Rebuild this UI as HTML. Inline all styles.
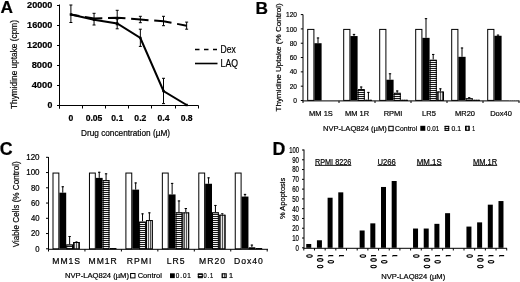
<!DOCTYPE html>
<html><head><meta charset="utf-8"><style>
html,body{margin:0;padding:0;background:#fff;}
svg{display:block;}
.b{filter:blur(0.35px);}
text{font-family:"Liberation Sans", sans-serif;fill:#000;stroke:#000;stroke-width:0.2px;}
</style></head><body>
<svg class="b" width="520" height="282" viewBox="0 0 520 282">
<defs>
<pattern id="hz" width="4" height="2" patternUnits="userSpaceOnUse"><rect width="4" height="2" fill="#f4f4f4"/><rect width="4" height="1" fill="#1a1a1a"/></pattern>
<pattern id="vt" width="2" height="4" patternUnits="userSpaceOnUse"><rect width="2" height="4" fill="#e4e4e4"/><rect width="1" height="4" fill="#555"/></pattern>
</defs>
<rect width="520" height="282" fill="#fff"/>
<text x="0.6" y="13.3" font-size="17.3" text-anchor="start" font-weight="bold" >A</text>
<line x1="59.5" y1="4.5" x2="59.5" y2="108.5" stroke="#000" stroke-width="1" />
<line x1="57" y1="105.5" x2="59.5" y2="105.5" stroke="#000" stroke-width="1" />
<text x="52.4" y="108.3" font-size="8.8" text-anchor="end" font-weight="bold" >0</text>
<line x1="57" y1="85.5" x2="59.5" y2="85.5" stroke="#000" stroke-width="1" />
<text x="52.4" y="88.3" font-size="8.8" text-anchor="end" font-weight="bold" textLength="20.7" lengthAdjust="spacingAndGlyphs" >4000</text>
<line x1="57" y1="65.5" x2="59.5" y2="65.5" stroke="#000" stroke-width="1" />
<text x="52.4" y="68.3" font-size="8.8" text-anchor="end" font-weight="bold" textLength="20.7" lengthAdjust="spacingAndGlyphs" >8000</text>
<line x1="57" y1="45.5" x2="59.5" y2="45.5" stroke="#000" stroke-width="1" />
<text x="52.4" y="48.3" font-size="8.8" text-anchor="end" font-weight="bold" textLength="25.3" lengthAdjust="spacingAndGlyphs" >12000</text>
<line x1="57" y1="25.5" x2="59.5" y2="25.5" stroke="#000" stroke-width="1" />
<text x="52.4" y="28.3" font-size="8.8" text-anchor="end" font-weight="bold" textLength="25.3" lengthAdjust="spacingAndGlyphs" >16000</text>
<line x1="57" y1="5.5" x2="59.5" y2="5.5" stroke="#000" stroke-width="1" />
<text x="52.4" y="8.3" font-size="8.8" text-anchor="end" font-weight="bold" textLength="25.3" lengthAdjust="spacingAndGlyphs" >20000</text>
<line x1="57" y1="105.5" x2="198.5" y2="105.5" stroke="#000" stroke-width="1" />
<line x1="59.5" y1="105.5" x2="59.5" y2="108.5" stroke="#000" stroke-width="1" />
<line x1="82.5" y1="105.5" x2="82.5" y2="108.5" stroke="#000" stroke-width="1" />
<line x1="105.5" y1="105.5" x2="105.5" y2="108.5" stroke="#000" stroke-width="1" />
<line x1="128.5" y1="105.5" x2="128.5" y2="108.5" stroke="#000" stroke-width="1" />
<line x1="151.5" y1="105.5" x2="151.5" y2="108.5" stroke="#000" stroke-width="1" />
<line x1="175.5" y1="105.5" x2="175.5" y2="108.5" stroke="#000" stroke-width="1" />
<line x1="198.5" y1="105.5" x2="198.5" y2="108.5" stroke="#000" stroke-width="1" />
<text x="70.9" y="121.4" font-size="8.6" text-anchor="middle" font-weight="bold" >0</text>
<text x="94.05000000000001" y="121.4" font-size="8.6" text-anchor="middle" font-weight="bold" >0.05</text>
<text x="117.2" y="121.4" font-size="8.6" text-anchor="middle" font-weight="bold" >0.1</text>
<text x="140.35" y="121.4" font-size="8.6" text-anchor="middle" font-weight="bold" >0.2</text>
<text x="163.5" y="121.4" font-size="8.6" text-anchor="middle" font-weight="bold" >0.4</text>
<text x="186.65" y="121.4" font-size="8.6" text-anchor="middle" font-weight="bold" >0.8</text>
<text x="81" y="136" font-size="9" text-anchor="start" textLength="89" lengthAdjust="spacingAndGlyphs" >Drug concentration (µM)</text>
<text transform="translate(17.2,109) rotate(-90)" font-size="9.4" text-anchor="start" textLength="89" lengthAdjust="spacingAndGlyphs" >Thymidine uptake (cpm)</text>
<polyline points="70.9,14.5 94.05000000000001,19.8 117.2,23.5 140.35,38.0 163.5,91.0 186.65,105.0" fill="none" stroke="#000" stroke-width="2"/>
<polyline points="70.9,14.5 94.05000000000001,18.4 117.2,17.7 140.35,19.5 163.5,21.3 186.65,25.7" fill="none" stroke="#000" stroke-width="2" stroke-dasharray="17.45 5.7" stroke-dashoffset="-14.3"/>
<line x1="70.9" y1="5.0" x2="70.9" y2="22.5" stroke="#000" stroke-width="1" />
<line x1="69.4" y1="5.0" x2="72.4" y2="5.0" stroke="#000" stroke-width="1" />
<line x1="69.4" y1="22.5" x2="72.4" y2="22.5" stroke="#000" stroke-width="1" />
<line x1="94.05000000000001" y1="13.3" x2="94.05000000000001" y2="25.0" stroke="#000" stroke-width="1" />
<line x1="92.55000000000001" y1="13.3" x2="95.55000000000001" y2="13.3" stroke="#000" stroke-width="1" />
<line x1="92.55000000000001" y1="25.0" x2="95.55000000000001" y2="25.0" stroke="#000" stroke-width="1" />
<line x1="117.2" y1="19" x2="117.2" y2="28.8" stroke="#000" stroke-width="1" />
<line x1="115.7" y1="19" x2="118.7" y2="19" stroke="#000" stroke-width="1" />
<line x1="115.7" y1="28.8" x2="118.7" y2="28.8" stroke="#000" stroke-width="1" />
<line x1="140.35" y1="29.2" x2="140.35" y2="46.4" stroke="#000" stroke-width="1" />
<line x1="138.85" y1="29.2" x2="141.85" y2="29.2" stroke="#000" stroke-width="1" />
<line x1="138.85" y1="46.4" x2="141.85" y2="46.4" stroke="#000" stroke-width="1" />
<line x1="163.5" y1="78.3" x2="163.5" y2="103.6" stroke="#000" stroke-width="1" />
<line x1="162.0" y1="78.3" x2="165.0" y2="78.3" stroke="#000" stroke-width="1" />
<line x1="162.0" y1="103.6" x2="165.0" y2="103.6" stroke="#000" stroke-width="1" />
<line x1="117.2" y1="10.3" x2="117.2" y2="24.8" stroke="#000" stroke-width="1" />
<line x1="115.7" y1="10.3" x2="118.7" y2="10.3" stroke="#000" stroke-width="1" />
<line x1="115.7" y1="24.8" x2="118.7" y2="24.8" stroke="#000" stroke-width="1" />
<line x1="140.35" y1="16.3" x2="140.35" y2="22.7" stroke="#000" stroke-width="1" />
<line x1="138.85" y1="16.3" x2="141.85" y2="16.3" stroke="#000" stroke-width="1" />
<line x1="138.85" y1="22.7" x2="141.85" y2="22.7" stroke="#000" stroke-width="1" />
<line x1="163.5" y1="16.3" x2="163.5" y2="25.7" stroke="#000" stroke-width="1" />
<line x1="162.0" y1="16.3" x2="165.0" y2="16.3" stroke="#000" stroke-width="1" />
<line x1="162.0" y1="25.7" x2="165.0" y2="25.7" stroke="#000" stroke-width="1" />
<line x1="186.65" y1="22.1" x2="186.65" y2="29.2" stroke="#000" stroke-width="1" />
<line x1="185.15" y1="22.1" x2="188.15" y2="22.1" stroke="#000" stroke-width="1" />
<line x1="185.15" y1="29.2" x2="188.15" y2="29.2" stroke="#000" stroke-width="1" />
<rect x="69.7" y="13.3" width="2.4" height="2.4" fill="#000"/>
<rect x="92.85000000000001" y="18.6" width="2.4" height="2.4" fill="#000"/>
<rect x="116.0" y="22.3" width="2.4" height="2.4" fill="#000"/>
<rect x="139.15" y="36.8" width="2.4" height="2.4" fill="#000"/>
<rect x="162.3" y="89.8" width="2.4" height="2.4" fill="#000"/>
<rect x="185.45000000000002" y="103.8" width="2.4" height="2.4" fill="#000"/>
<line x1="195" y1="49.5" x2="217" y2="49.5" stroke="#000" stroke-width="1.6" stroke-dasharray="4.5 4.5"/>
<line x1="195" y1="63.5" x2="217.5" y2="63.5" stroke="#000" stroke-width="1.6" />
<text x="220.6" y="53.4" font-size="10.2" text-anchor="start" textLength="15.2" lengthAdjust="spacingAndGlyphs" >Dex</text>
<text x="220.6" y="66.6" font-size="10.2" text-anchor="start" textLength="17.4" lengthAdjust="spacingAndGlyphs" >LAQ</text>
<text x="255.6" y="13.6" font-size="17.3" text-anchor="start" font-weight="bold" >B</text>
<line x1="303" y1="14.5" x2="303" y2="100.9" stroke="#000" stroke-width="1" />
<line x1="300.8" y1="100.5" x2="303" y2="100.5" stroke="#000" stroke-width="1" />
<text x="297" y="103.1" font-size="7.6" text-anchor="end" textLength="3.7" lengthAdjust="spacingAndGlyphs" >0</text>
<line x1="300.8" y1="86.18" x2="303" y2="86.18" stroke="#000" stroke-width="1" />
<text x="297" y="88.78" font-size="7.6" text-anchor="end" textLength="7.3" lengthAdjust="spacingAndGlyphs" >20</text>
<line x1="300.8" y1="71.86" x2="303" y2="71.86" stroke="#000" stroke-width="1" />
<text x="297" y="74.46" font-size="7.6" text-anchor="end" textLength="7.3" lengthAdjust="spacingAndGlyphs" >40</text>
<line x1="300.8" y1="57.54" x2="303" y2="57.54" stroke="#000" stroke-width="1" />
<text x="297" y="60.14" font-size="7.6" text-anchor="end" textLength="7.3" lengthAdjust="spacingAndGlyphs" >60</text>
<line x1="300.8" y1="43.22" x2="303" y2="43.22" stroke="#000" stroke-width="1" />
<text x="297" y="45.82" font-size="7.6" text-anchor="end" textLength="7.3" lengthAdjust="spacingAndGlyphs" >80</text>
<line x1="300.8" y1="28.900000000000006" x2="303" y2="28.900000000000006" stroke="#000" stroke-width="1" />
<text x="297" y="31.500000000000007" font-size="7.6" text-anchor="end" textLength="11" lengthAdjust="spacingAndGlyphs" >100</text>
<line x1="300.8" y1="14.579999999999998" x2="303" y2="14.579999999999998" stroke="#000" stroke-width="1" />
<text x="297" y="17.18" font-size="7.6" text-anchor="end" textLength="11" lengthAdjust="spacingAndGlyphs" >120</text>
<line x1="302.5" y1="100.9" x2="519.5" y2="100.9" stroke="#000" stroke-width="1" />
<line x1="303" y1="100.9" x2="303" y2="103" stroke="#000" stroke-width="1" />
<line x1="339" y1="100.9" x2="339" y2="103" stroke="#000" stroke-width="1" />
<line x1="375" y1="100.9" x2="375" y2="103" stroke="#000" stroke-width="1" />
<line x1="411" y1="100.9" x2="411" y2="103" stroke="#000" stroke-width="1" />
<line x1="447" y1="100.9" x2="447" y2="103" stroke="#000" stroke-width="1" />
<line x1="483" y1="100.9" x2="483" y2="103" stroke="#000" stroke-width="1" />
<line x1="519" y1="100.9" x2="519" y2="103" stroke="#000" stroke-width="1" />
<text transform="translate(280.6,111.5) rotate(-90)" font-size="8" text-anchor="start" textLength="108.2" lengthAdjust="spacingAndGlyphs" >Thymidine Uptake (% Control)</text>
<rect x="307.7" y="29.400000000000006" width="6.2" height="71.0" fill="#fff" stroke="#000" stroke-width="1"/>
<line x1="318.0" y1="37.492000000000004" x2="318.0" y2="43.22" stroke="#000" stroke-width="1" />
<line x1="316.8" y1="37.992000000000004" x2="319.2" y2="37.992000000000004" stroke="#000" stroke-width="1" />
<rect x="314.4" y="43.22" width="7.2" height="57.18000000000001" fill="#000"/>
<text x="321" y="116.3" font-size="7.5" text-anchor="middle" >MM 1S</text>
<rect x="343.7" y="29.400000000000006" width="6.2" height="71.0" fill="#fff" stroke="#000" stroke-width="1"/>
<line x1="354.0" y1="33.912000000000006" x2="354.0" y2="36.06" stroke="#000" stroke-width="1" />
<line x1="352.8" y1="34.412000000000006" x2="355.2" y2="34.412000000000006" stroke="#000" stroke-width="1" />
<rect x="350.4" y="36.06" width="7.2" height="64.34" fill="#000"/>
<line x1="361.2" y1="86.538" x2="361.2" y2="89.044" stroke="#000" stroke-width="1" />
<line x1="360.0" y1="87.038" x2="362.4" y2="87.038" stroke="#000" stroke-width="1" />
<rect x="357.59999999999997" y="89.044" width="7.2" height="11.356000000000009" fill="url(#hz)"/>
<rect x="358.09999999999997" y="89.544" width="6.2" height="10.856000000000009" fill="none" stroke="#000" stroke-width="1"/>
<line x1="368.40000000000003" y1="91.908" x2="368.40000000000003" y2="99.784" stroke="#000" stroke-width="1" />
<line x1="367.20000000000005" y1="92.408" x2="369.6" y2="92.408" stroke="#000" stroke-width="1" />
<rect x="364.8" y="99.784" width="7.2" height="0.6159999999999997" fill="url(#vt)"/>
<rect x="365.3" y="100.284" width="6.2" height="0.11599999999999966" fill="none" stroke="#000" stroke-width="1"/>
<text x="357" y="116.3" font-size="7.5" text-anchor="middle" >MM 1R</text>
<rect x="379.7" y="29.400000000000006" width="6.2" height="71.0" fill="#fff" stroke="#000" stroke-width="1"/>
<line x1="390.0" y1="73.292" x2="390.0" y2="79.736" stroke="#000" stroke-width="1" />
<line x1="388.8" y1="73.792" x2="391.2" y2="73.792" stroke="#000" stroke-width="1" />
<rect x="386.4" y="79.736" width="7.2" height="20.664" fill="#000"/>
<line x1="397.2" y1="90.476" x2="397.2" y2="92.8388" stroke="#000" stroke-width="1" />
<line x1="396.0" y1="90.976" x2="398.4" y2="90.976" stroke="#000" stroke-width="1" />
<rect x="393.59999999999997" y="92.8388" width="7.2" height="7.5611999999999995" fill="url(#hz)"/>
<rect x="394.09999999999997" y="93.3388" width="6.2" height="7.0611999999999995" fill="none" stroke="#000" stroke-width="1"/>
<rect x="400.8" y="99.784" width="7.2" height="0.6159999999999997" fill="url(#vt)"/>
<rect x="401.3" y="100.284" width="6.2" height="0.11599999999999966" fill="none" stroke="#000" stroke-width="1"/>
<text x="393" y="116.3" font-size="7.5" text-anchor="middle" >RPMI</text>
<rect x="415.7" y="29.400000000000006" width="6.2" height="71.0" fill="#fff" stroke="#000" stroke-width="1"/>
<line x1="426.0" y1="18.159999999999997" x2="426.0" y2="37.85" stroke="#000" stroke-width="1" />
<line x1="424.8" y1="18.659999999999997" x2="427.2" y2="18.659999999999997" stroke="#000" stroke-width="1" />
<rect x="422.4" y="37.85" width="7.2" height="62.550000000000004" fill="#000"/>
<line x1="433.2" y1="53.96" x2="433.2" y2="59.688" stroke="#000" stroke-width="1" />
<line x1="432.0" y1="54.46" x2="434.4" y2="54.46" stroke="#000" stroke-width="1" />
<rect x="429.59999999999997" y="59.688" width="7.2" height="40.712" fill="url(#hz)"/>
<rect x="430.09999999999997" y="60.188" width="6.2" height="40.212" fill="none" stroke="#000" stroke-width="1"/>
<line x1="440.40000000000003" y1="88.328" x2="440.40000000000003" y2="91.4784" stroke="#000" stroke-width="1" />
<line x1="439.20000000000005" y1="88.828" x2="441.6" y2="88.828" stroke="#000" stroke-width="1" />
<rect x="436.8" y="91.4784" width="7.2" height="8.921600000000012" fill="url(#vt)"/>
<rect x="437.3" y="91.9784" width="6.2" height="8.421600000000012" fill="none" stroke="#000" stroke-width="1"/>
<text x="429" y="116.3" font-size="7.5" text-anchor="middle" >LR5</text>
<rect x="451.7" y="29.400000000000006" width="6.2" height="71.0" fill="#fff" stroke="#000" stroke-width="1"/>
<line x1="462.0" y1="47.516000000000005" x2="462.0" y2="56.824000000000005" stroke="#000" stroke-width="1" />
<line x1="460.8" y1="48.016000000000005" x2="463.2" y2="48.016000000000005" stroke="#000" stroke-width="1" />
<rect x="458.4" y="56.824000000000005" width="7.2" height="43.576" fill="#000"/>
<line x1="469.2" y1="97.278" x2="469.2" y2="98.352" stroke="#000" stroke-width="1" />
<line x1="468.0" y1="97.778" x2="470.4" y2="97.778" stroke="#000" stroke-width="1" />
<rect x="465.59999999999997" y="98.352" width="7.2" height="2.048000000000002" fill="url(#hz)"/>
<rect x="466.09999999999997" y="98.852" width="6.2" height="1.5480000000000018" fill="none" stroke="#000" stroke-width="1"/>
<rect x="472.8" y="99.784" width="7.2" height="0.6159999999999997" fill="url(#vt)"/>
<rect x="473.3" y="100.284" width="6.2" height="0.11599999999999966" fill="none" stroke="#000" stroke-width="1"/>
<text x="465" y="116.3" font-size="7.5" text-anchor="middle" >MR20</text>
<rect x="487.7" y="29.400000000000006" width="6.2" height="71.0" fill="#fff" stroke="#000" stroke-width="1"/>
<line x1="498.0" y1="34.628" x2="498.0" y2="35.7736" stroke="#000" stroke-width="1" />
<line x1="496.8" y1="35.128" x2="499.2" y2="35.128" stroke="#000" stroke-width="1" />
<rect x="494.4" y="35.7736" width="7.2" height="64.6264" fill="#000"/>
<rect x="501.59999999999997" y="100.2136" width="7.2" height="0.18640000000000612" fill="url(#hz)"/>
<rect x="502.09999999999997" y="100.7136" width="6.2" height="-0.3135999999999939" fill="none" stroke="#000" stroke-width="1"/>
<rect x="508.8" y="100.2852" width="7.2" height="0.11480000000000246" fill="url(#vt)"/>
<rect x="509.3" y="100.7852" width="6.2" height="-0.38519999999999754" fill="none" stroke="#000" stroke-width="1"/>
<text x="501" y="116.3" font-size="7.5" text-anchor="middle" >Dox40</text>
<text x="323" y="131" font-size="8" text-anchor="start" textLength="63.8" lengthAdjust="spacingAndGlyphs" >NVP-LAQ824 (µM)</text>
<rect x="388.8" y="126.3" width="4.4" height="4.4" fill="#fff" stroke="#000" stroke-width="1"/>
<text x="395" y="131" font-size="8" text-anchor="start" textLength="22.2" lengthAdjust="spacingAndGlyphs" >Control</text>
<rect x="420.3" y="125.8" width="5" height="5" fill="#000"/>
<text x="427" y="131" font-size="8" text-anchor="start" textLength="12.2" lengthAdjust="spacingAndGlyphs" >0.01</text>
<rect x="444.6" y="125.8" width="4.6" height="5" fill="url(#hz)"/>
<rect x="445.1" y="126.3" width="3.6" height="4" fill="none" stroke="#000" stroke-width="1"/>
<text x="451.5" y="131" font-size="8" text-anchor="start" textLength="9.5" lengthAdjust="spacingAndGlyphs" >0.1</text>
<rect x="465" y="125.8" width="4.8" height="5" fill="url(#vt)"/>
<rect x="465.5" y="126.3" width="3.8" height="4" fill="none" stroke="#000" stroke-width="1"/>
<text x="472.2" y="131" font-size="8" text-anchor="start" textLength="2.8" lengthAdjust="spacingAndGlyphs" >1</text>
<text x="-0.2" y="154.6" font-size="17.8" text-anchor="start" font-weight="bold" >C</text>
<line x1="48.5" y1="157" x2="48.5" y2="249.3" stroke="#000" stroke-width="1" />
<line x1="46" y1="248.8" x2="48.5" y2="248.8" stroke="#000" stroke-width="1" />
<text x="39.6" y="251.70000000000002" font-size="8.2" text-anchor="end" textLength="4.3" lengthAdjust="spacingAndGlyphs" >0</text>
<line x1="46" y1="233.55" x2="48.5" y2="233.55" stroke="#000" stroke-width="1" />
<text x="39.6" y="236.45000000000002" font-size="8.2" text-anchor="end" textLength="8.6" lengthAdjust="spacingAndGlyphs" >20</text>
<line x1="46" y1="218.3" x2="48.5" y2="218.3" stroke="#000" stroke-width="1" />
<text x="39.6" y="221.20000000000002" font-size="8.2" text-anchor="end" textLength="8.6" lengthAdjust="spacingAndGlyphs" >40</text>
<line x1="46" y1="203.05" x2="48.5" y2="203.05" stroke="#000" stroke-width="1" />
<text x="39.6" y="205.95000000000002" font-size="8.2" text-anchor="end" textLength="8.6" lengthAdjust="spacingAndGlyphs" >60</text>
<line x1="46" y1="187.8" x2="48.5" y2="187.8" stroke="#000" stroke-width="1" />
<text x="39.6" y="190.70000000000002" font-size="8.2" text-anchor="end" textLength="8.6" lengthAdjust="spacingAndGlyphs" >80</text>
<line x1="46" y1="172.55" x2="48.5" y2="172.55" stroke="#000" stroke-width="1" />
<text x="39.6" y="175.45000000000002" font-size="8.2" text-anchor="end" textLength="13.4" lengthAdjust="spacingAndGlyphs" >100</text>
<line x1="46" y1="157.3" x2="48.5" y2="157.3" stroke="#000" stroke-width="1" />
<text x="39.6" y="160.20000000000002" font-size="8.2" text-anchor="end" textLength="13.4" lengthAdjust="spacingAndGlyphs" >120</text>
<line x1="48" y1="249.3" x2="268" y2="249.3" stroke="#000" stroke-width="1" />
<line x1="48.5" y1="249.3" x2="48.5" y2="251.5" stroke="#000" stroke-width="1" />
<line x1="84.95" y1="249.3" x2="84.95" y2="251.5" stroke="#000" stroke-width="1" />
<line x1="121.4" y1="249.3" x2="121.4" y2="251.5" stroke="#000" stroke-width="1" />
<line x1="157.85000000000002" y1="249.3" x2="157.85000000000002" y2="251.5" stroke="#000" stroke-width="1" />
<line x1="194.3" y1="249.3" x2="194.3" y2="251.5" stroke="#000" stroke-width="1" />
<line x1="230.75" y1="249.3" x2="230.75" y2="251.5" stroke="#000" stroke-width="1" />
<line x1="267.20000000000005" y1="249.3" x2="267.20000000000005" y2="251.5" stroke="#000" stroke-width="1" />
<text transform="translate(18.9,247.3) rotate(-90)" font-size="9.3" text-anchor="start" textLength="86" lengthAdjust="spacingAndGlyphs" >Viable Cells (% Control)</text>
<rect x="53.0" y="173.05" width="5.85" height="75.75" fill="#fff" stroke="#000" stroke-width="1"/>
<line x1="62.775" y1="186.275" x2="62.775" y2="192.68" stroke="#000" stroke-width="1" />
<line x1="61.574999999999996" y1="186.775" x2="63.975" y2="186.775" stroke="#000" stroke-width="1" />
<rect x="59.35" y="192.68" width="6.85" height="56.120000000000005" fill="#000"/>
<line x1="69.625" y1="235.99" x2="69.625" y2="244.53" stroke="#000" stroke-width="1" />
<line x1="68.425" y1="236.49" x2="70.825" y2="236.49" stroke="#000" stroke-width="1" />
<rect x="66.2" y="244.53" width="6.85" height="4.27000000000001" fill="url(#hz)"/>
<rect x="66.7" y="245.03" width="5.85" height="3.7700000000000102" fill="none" stroke="#000" stroke-width="1"/>
<line x1="76.475" y1="241.55625" x2="76.475" y2="242.01375000000002" stroke="#000" stroke-width="1" />
<line x1="75.27499999999999" y1="242.05625" x2="77.675" y2="242.05625" stroke="#000" stroke-width="1" />
<rect x="73.05" y="242.01375000000002" width="6.85" height="6.7862499999999955" fill="url(#vt)"/>
<rect x="73.55" y="242.51375000000002" width="5.85" height="6.2862499999999955" fill="none" stroke="#000" stroke-width="1"/>
<text x="66.7" y="264.3" font-size="8.6" text-anchor="middle" letter-spacing="1.0" >MM1S</text>
<rect x="89.45" y="173.05" width="5.85" height="75.75" fill="#fff" stroke="#000" stroke-width="1"/>
<line x1="99.225" y1="171.78750000000002" x2="99.225" y2="177.88750000000002" stroke="#000" stroke-width="1" />
<line x1="98.02499999999999" y1="172.28750000000002" x2="100.425" y2="172.28750000000002" stroke="#000" stroke-width="1" />
<rect x="95.8" y="177.88750000000002" width="6.85" height="70.9125" fill="#000"/>
<line x1="106.075" y1="173.3125" x2="106.075" y2="180.175" stroke="#000" stroke-width="1" />
<line x1="104.875" y1="173.8125" x2="107.275" y2="173.8125" stroke="#000" stroke-width="1" />
<rect x="102.65" y="180.175" width="6.85" height="68.625" fill="url(#hz)"/>
<rect x="103.15" y="180.675" width="5.85" height="68.125" fill="none" stroke="#000" stroke-width="1"/>
<rect x="109.5" y="248.03750000000002" width="6.85" height="0.7624999999999886" fill="url(#vt)"/>
<rect x="110.0" y="248.53750000000002" width="5.85" height="0.26249999999998863" fill="none" stroke="#000" stroke-width="1"/>
<text x="103.15" y="264.3" font-size="8.6" text-anchor="middle" letter-spacing="1.0" >MM1R</text>
<rect x="125.9" y="173.05" width="5.85" height="75.75" fill="#fff" stroke="#000" stroke-width="1"/>
<line x1="135.675" y1="182.46250000000003" x2="135.675" y2="189.63000000000002" stroke="#000" stroke-width="1" />
<line x1="134.47500000000002" y1="182.96250000000003" x2="136.875" y2="182.96250000000003" stroke="#000" stroke-width="1" />
<rect x="132.25" y="189.63000000000002" width="6.85" height="59.16999999999999" fill="#000"/>
<line x1="142.525" y1="213.34375" x2="142.525" y2="221.50250000000003" stroke="#000" stroke-width="1" />
<line x1="141.32500000000002" y1="213.84375" x2="143.725" y2="213.84375" stroke="#000" stroke-width="1" />
<rect x="139.1" y="221.50250000000003" width="6.85" height="27.297499999999985" fill="url(#hz)"/>
<rect x="139.6" y="222.00250000000003" width="5.85" height="26.797499999999985" fill="none" stroke="#000" stroke-width="1"/>
<line x1="149.375" y1="212.35250000000002" x2="149.375" y2="220.05375" stroke="#000" stroke-width="1" />
<line x1="148.175" y1="212.85250000000002" x2="150.575" y2="212.85250000000002" stroke="#000" stroke-width="1" />
<rect x="145.95" y="220.05375" width="6.85" height="28.746250000000003" fill="url(#vt)"/>
<rect x="146.45" y="220.55375" width="5.85" height="28.246250000000003" fill="none" stroke="#000" stroke-width="1"/>
<text x="139.60000000000002" y="264.3" font-size="8.6" text-anchor="middle" letter-spacing="1.0" >RPMI</text>
<rect x="162.35000000000002" y="173.05" width="5.85" height="75.75" fill="#fff" stroke="#000" stroke-width="1"/>
<line x1="172.12500000000003" y1="182.92000000000002" x2="172.12500000000003" y2="194.43375000000003" stroke="#000" stroke-width="1" />
<line x1="170.92500000000004" y1="183.42000000000002" x2="173.32500000000002" y2="183.42000000000002" stroke="#000" stroke-width="1" />
<rect x="168.70000000000002" y="194.43375000000003" width="6.85" height="54.36624999999998" fill="#000"/>
<line x1="178.97500000000002" y1="200.4575" x2="178.97500000000002" y2="212.35250000000002" stroke="#000" stroke-width="1" />
<line x1="177.77500000000003" y1="200.9575" x2="180.175" y2="200.9575" stroke="#000" stroke-width="1" />
<rect x="175.55" y="212.35250000000002" width="6.85" height="36.44749999999999" fill="url(#hz)"/>
<rect x="176.05" y="212.85250000000002" width="5.85" height="35.94749999999999" fill="none" stroke="#000" stroke-width="1"/>
<line x1="185.82500000000005" y1="208.00625000000002" x2="185.82500000000005" y2="212.35250000000002" stroke="#000" stroke-width="1" />
<line x1="184.62500000000006" y1="208.50625000000002" x2="187.02500000000003" y2="208.50625000000002" stroke="#000" stroke-width="1" />
<rect x="182.40000000000003" y="212.35250000000002" width="6.85" height="36.44749999999999" fill="url(#vt)"/>
<rect x="182.90000000000003" y="212.85250000000002" width="5.85" height="35.94749999999999" fill="none" stroke="#000" stroke-width="1"/>
<text x="176.05" y="264.3" font-size="8.6" text-anchor="middle" letter-spacing="1.0" >LR5</text>
<rect x="198.8" y="173.05" width="5.85" height="75.75" fill="#fff" stroke="#000" stroke-width="1"/>
<line x1="208.57500000000002" y1="177.35375000000002" x2="208.57500000000002" y2="183.75875000000002" stroke="#000" stroke-width="1" />
<line x1="207.37500000000003" y1="177.85375000000002" x2="209.775" y2="177.85375000000002" stroke="#000" stroke-width="1" />
<rect x="205.15" y="183.75875000000002" width="6.85" height="65.04124999999999" fill="#000"/>
<line x1="215.425" y1="204.95625" x2="215.425" y2="212.35250000000002" stroke="#000" stroke-width="1" />
<line x1="214.22500000000002" y1="205.45625" x2="216.625" y2="205.45625" stroke="#000" stroke-width="1" />
<rect x="212.0" y="212.35250000000002" width="6.85" height="36.44749999999999" fill="url(#hz)"/>
<rect x="212.5" y="212.85250000000002" width="5.85" height="35.94749999999999" fill="none" stroke="#000" stroke-width="1"/>
<line x1="222.27500000000003" y1="213.34375" x2="222.27500000000003" y2="214.71625" stroke="#000" stroke-width="1" />
<line x1="221.07500000000005" y1="213.84375" x2="223.47500000000002" y2="213.84375" stroke="#000" stroke-width="1" />
<rect x="218.85000000000002" y="214.71625" width="6.85" height="34.08375000000001" fill="url(#vt)"/>
<rect x="219.35000000000002" y="215.21625" width="5.85" height="33.58375000000001" fill="none" stroke="#000" stroke-width="1"/>
<text x="212.5" y="264.3" font-size="8.6" text-anchor="middle" letter-spacing="1.0" >MR20</text>
<rect x="235.25" y="173.05" width="5.85" height="75.75" fill="#fff" stroke="#000" stroke-width="1"/>
<line x1="245.025" y1="193.9" x2="245.025" y2="196.56875000000002" stroke="#000" stroke-width="1" />
<line x1="243.82500000000002" y1="194.4" x2="246.225" y2="194.4" stroke="#000" stroke-width="1" />
<rect x="241.6" y="196.56875000000002" width="6.85" height="52.23124999999999" fill="#000"/>
<line x1="251.875" y1="244.60625000000002" x2="251.875" y2="247.275" stroke="#000" stroke-width="1" />
<line x1="250.675" y1="245.10625000000002" x2="253.075" y2="245.10625000000002" stroke="#000" stroke-width="1" />
<rect x="248.45" y="247.275" width="6.85" height="1.5250000000000057" fill="url(#hz)"/>
<rect x="248.95" y="247.775" width="5.85" height="1.0250000000000057" fill="none" stroke="#000" stroke-width="1"/>
<rect x="255.3" y="248.03750000000002" width="6.85" height="0.7624999999999886" fill="url(#vt)"/>
<rect x="255.8" y="248.53750000000002" width="5.85" height="0.26249999999998863" fill="none" stroke="#000" stroke-width="1"/>
<text x="248.95" y="264.3" font-size="8.6" text-anchor="middle" letter-spacing="1.0" >Dox40</text>
<text x="65" y="278.3" font-size="7.3" text-anchor="start" textLength="64" lengthAdjust="spacingAndGlyphs" >NVP-LAQ824 (µM)</text>
<rect x="130.6" y="273.5" width="4.4" height="4.4" fill="#fff" stroke="#000" stroke-width="1"/>
<text x="137.7" y="278.3" font-size="7.3" text-anchor="start" textLength="24.2" lengthAdjust="spacingAndGlyphs" >Control</text>
<rect x="170" y="273.3" width="4.8" height="4.8" fill="#000"/>
<text x="175.8" y="278.3" font-size="7.3" text-anchor="start" textLength="16" lengthAdjust="spacingAndGlyphs" letter-spacing="1" >0.01</text>
<rect x="197.8" y="273.3" width="5" height="4.8" fill="url(#hz)"/>
<rect x="198.3" y="273.8" width="4" height="3.8" fill="none" stroke="#000" stroke-width="1"/>
<text x="203.5" y="278.3" font-size="7.3" text-anchor="start" textLength="10.4" lengthAdjust="spacingAndGlyphs" letter-spacing="1" >0.1</text>
<rect x="221.6" y="273.3" width="5" height="4.8" fill="url(#vt)"/>
<rect x="222.1" y="273.8" width="4" height="3.8" fill="none" stroke="#000" stroke-width="1"/>
<text x="228.9" y="278.3" font-size="7.3" text-anchor="start" >1</text>
<text x="272.6" y="154.6" font-size="17.8" text-anchor="start" font-weight="bold" >D</text>
<line x1="304" y1="149.5" x2="304" y2="248.3" stroke="#000" stroke-width="1" />
<line x1="302" y1="247.8" x2="304" y2="247.8" stroke="#000" stroke-width="1" />
<text x="299" y="250.70000000000002" font-size="8.3" text-anchor="end" textLength="3.4" lengthAdjust="spacingAndGlyphs" >0</text>
<line x1="302" y1="238.02" x2="304" y2="238.02" stroke="#000" stroke-width="1" />
<text x="299" y="240.92000000000002" font-size="8.3" text-anchor="end" textLength="6.8" lengthAdjust="spacingAndGlyphs" >10</text>
<line x1="302" y1="228.24" x2="304" y2="228.24" stroke="#000" stroke-width="1" />
<text x="299" y="231.14000000000001" font-size="8.3" text-anchor="end" textLength="6.8" lengthAdjust="spacingAndGlyphs" >20</text>
<line x1="302" y1="218.46" x2="304" y2="218.46" stroke="#000" stroke-width="1" />
<text x="299" y="221.36" font-size="8.3" text-anchor="end" textLength="6.8" lengthAdjust="spacingAndGlyphs" >30</text>
<line x1="302" y1="208.68" x2="304" y2="208.68" stroke="#000" stroke-width="1" />
<text x="299" y="211.58" font-size="8.3" text-anchor="end" textLength="6.8" lengthAdjust="spacingAndGlyphs" >40</text>
<line x1="302" y1="198.9" x2="304" y2="198.9" stroke="#000" stroke-width="1" />
<text x="299" y="201.8" font-size="8.3" text-anchor="end" textLength="6.8" lengthAdjust="spacingAndGlyphs" >50</text>
<line x1="302" y1="189.12" x2="304" y2="189.12" stroke="#000" stroke-width="1" />
<text x="299" y="192.02" font-size="8.3" text-anchor="end" textLength="6.8" lengthAdjust="spacingAndGlyphs" >60</text>
<line x1="302" y1="179.34000000000003" x2="304" y2="179.34000000000003" stroke="#000" stroke-width="1" />
<text x="299" y="182.24000000000004" font-size="8.3" text-anchor="end" textLength="6.8" lengthAdjust="spacingAndGlyphs" >70</text>
<line x1="302" y1="169.56" x2="304" y2="169.56" stroke="#000" stroke-width="1" />
<text x="299" y="172.46" font-size="8.3" text-anchor="end" textLength="6.8" lengthAdjust="spacingAndGlyphs" >80</text>
<line x1="302" y1="159.78000000000003" x2="304" y2="159.78000000000003" stroke="#000" stroke-width="1" />
<text x="299" y="162.68000000000004" font-size="8.3" text-anchor="end" textLength="6.8" lengthAdjust="spacingAndGlyphs" >90</text>
<line x1="302" y1="150.0" x2="304" y2="150.0" stroke="#000" stroke-width="1" />
<text x="299" y="152.9" font-size="8.3" text-anchor="end" textLength="9.8" lengthAdjust="spacingAndGlyphs" >100</text>
<line x1="303.5" y1="248.3" x2="507" y2="248.3" stroke="#000" stroke-width="1" />
<line x1="303.8" y1="248.3" x2="303.8" y2="250.5" stroke="#000" stroke-width="1" />
<line x1="314.48" y1="248.3" x2="314.48" y2="250.5" stroke="#000" stroke-width="1" />
<line x1="325.16" y1="248.3" x2="325.16" y2="250.5" stroke="#000" stroke-width="1" />
<line x1="335.84000000000003" y1="248.3" x2="335.84000000000003" y2="250.5" stroke="#000" stroke-width="1" />
<line x1="346.52" y1="248.3" x2="346.52" y2="250.5" stroke="#000" stroke-width="1" />
<line x1="357.2" y1="248.3" x2="357.2" y2="250.5" stroke="#000" stroke-width="1" />
<line x1="367.88" y1="248.3" x2="367.88" y2="250.5" stroke="#000" stroke-width="1" />
<line x1="378.56" y1="248.3" x2="378.56" y2="250.5" stroke="#000" stroke-width="1" />
<line x1="389.24" y1="248.3" x2="389.24" y2="250.5" stroke="#000" stroke-width="1" />
<line x1="399.92" y1="248.3" x2="399.92" y2="250.5" stroke="#000" stroke-width="1" />
<line x1="410.6" y1="248.3" x2="410.6" y2="250.5" stroke="#000" stroke-width="1" />
<line x1="421.28" y1="248.3" x2="421.28" y2="250.5" stroke="#000" stroke-width="1" />
<line x1="431.96000000000004" y1="248.3" x2="431.96000000000004" y2="250.5" stroke="#000" stroke-width="1" />
<line x1="442.64" y1="248.3" x2="442.64" y2="250.5" stroke="#000" stroke-width="1" />
<line x1="453.32" y1="248.3" x2="453.32" y2="250.5" stroke="#000" stroke-width="1" />
<line x1="464.0" y1="248.3" x2="464.0" y2="250.5" stroke="#000" stroke-width="1" />
<line x1="474.68" y1="248.3" x2="474.68" y2="250.5" stroke="#000" stroke-width="1" />
<line x1="485.36" y1="248.3" x2="485.36" y2="250.5" stroke="#000" stroke-width="1" />
<line x1="496.04" y1="248.3" x2="496.04" y2="250.5" stroke="#000" stroke-width="1" />
<line x1="506.72" y1="248.3" x2="506.72" y2="250.5" stroke="#000" stroke-width="1" />
<rect x="306.23999999999995" y="243.9858" width="5" height="3.8141999999999996" fill="#000"/>
<ellipse cx="309.49" cy="255.95" rx="2.75" ry="1.3" fill="none" stroke="#000" stroke-width="1.05"/>
<rect x="316.91999999999996" y="240.26940000000002" width="5" height="7.530599999999993" fill="#000"/>
<path d="M317.67 255.6H322.57M317.67 255.6l0.7 0.7" fill="none" stroke="#000" stroke-width="1.1"/>
<ellipse cx="320.17" cy="259.9" rx="2.75" ry="1.3" fill="none" stroke="#000" stroke-width="1.05"/>
<ellipse cx="320.17" cy="266.5" rx="2.75" ry="1.3" fill="none" stroke="#000" stroke-width="1.05"/>
<rect x="327.59999999999997" y="197.7264" width="5" height="50.0736" fill="#000"/>
<path d="M328.35 255.6H333.25M328.35 255.6l0.7 0.7" fill="none" stroke="#000" stroke-width="1.1"/>
<ellipse cx="330.85" cy="261.7" rx="2.75" ry="1.3" fill="none" stroke="#000" stroke-width="1.05"/>
<rect x="338.28" y="192.3474" width="5" height="55.45260000000002" fill="#000"/>
<path d="M339.03 255.6H343.93M339.03 255.6l0.7 0.7" fill="none" stroke="#000" stroke-width="1.1"/>
<text x="315" y="164.5" font-size="8.3" text-anchor="start" textLength="36.3" lengthAdjust="spacingAndGlyphs" >RPMI 8226</text>
<line x1="315" y1="165.4" x2="351.3" y2="165.4" stroke="#000" stroke-width="0.9" />
<rect x="359.64" y="230.48940000000002" width="5" height="17.310599999999994" fill="#000"/>
<ellipse cx="362.89" cy="255.95" rx="2.75" ry="1.3" fill="none" stroke="#000" stroke-width="1.05"/>
<rect x="370.32" y="223.35000000000002" width="5" height="24.44999999999999" fill="#000"/>
<path d="M371.07 255.6H375.97M371.07 255.6l0.7 0.7" fill="none" stroke="#000" stroke-width="1.1"/>
<ellipse cx="373.57" cy="259.9" rx="2.75" ry="1.3" fill="none" stroke="#000" stroke-width="1.05"/>
<ellipse cx="373.57" cy="266.5" rx="2.75" ry="1.3" fill="none" stroke="#000" stroke-width="1.05"/>
<rect x="381.0" y="186.9684" width="5" height="60.83160000000001" fill="#000"/>
<path d="M381.75 255.6H386.65M381.75 255.6l0.7 0.7" fill="none" stroke="#000" stroke-width="1.1"/>
<ellipse cx="384.25" cy="261.7" rx="2.75" ry="1.3" fill="none" stroke="#000" stroke-width="1.05"/>
<rect x="391.67999999999995" y="181.00260000000003" width="5" height="66.79739999999998" fill="#000"/>
<path d="M392.43 255.6H397.33M392.43 255.6l0.7 0.7" fill="none" stroke="#000" stroke-width="1.1"/>
<text x="377.5" y="164.5" font-size="8.3" text-anchor="start" textLength="18.3" lengthAdjust="spacingAndGlyphs" >U266</text>
<line x1="377.5" y1="165.4" x2="395.8" y2="165.4" stroke="#000" stroke-width="0.9" />
<rect x="413.03999999999996" y="228.5334" width="5" height="19.26660000000001" fill="#000"/>
<ellipse cx="416.29" cy="255.95" rx="2.75" ry="1.3" fill="none" stroke="#000" stroke-width="1.05"/>
<rect x="423.71999999999997" y="228.5334" width="5" height="19.26660000000001" fill="#000"/>
<path d="M424.47 255.6H429.37M424.47 255.6l0.7 0.7" fill="none" stroke="#000" stroke-width="1.1"/>
<ellipse cx="426.97" cy="259.9" rx="2.75" ry="1.3" fill="none" stroke="#000" stroke-width="1.05"/>
<ellipse cx="426.97" cy="266.5" rx="2.75" ry="1.3" fill="none" stroke="#000" stroke-width="1.05"/>
<rect x="434.4" y="223.839" width="5" height="23.961000000000013" fill="#000"/>
<path d="M435.15 255.6H440.05M435.15 255.6l0.7 0.7" fill="none" stroke="#000" stroke-width="1.1"/>
<ellipse cx="437.65" cy="261.7" rx="2.75" ry="1.3" fill="none" stroke="#000" stroke-width="1.05"/>
<rect x="445.08" y="213.17880000000002" width="5" height="34.62119999999999" fill="#000"/>
<path d="M445.83 255.6H450.73M445.83 255.6l0.7 0.7" fill="none" stroke="#000" stroke-width="1.1"/>
<text x="416.8" y="164.5" font-size="8.3" text-anchor="start" textLength="24.9" lengthAdjust="spacingAndGlyphs" >MM.1S</text>
<line x1="416.8" y1="165.4" x2="441.7" y2="165.4" stroke="#000" stroke-width="0.9" />
<rect x="466.43999999999994" y="226.5774" width="5" height="21.2226" fill="#000"/>
<ellipse cx="469.69" cy="255.95" rx="2.75" ry="1.3" fill="none" stroke="#000" stroke-width="1.05"/>
<rect x="477.12" y="222.372" width="5" height="25.427999999999997" fill="#000"/>
<path d="M477.87 255.6H482.77M477.87 255.6l0.7 0.7" fill="none" stroke="#000" stroke-width="1.1"/>
<ellipse cx="480.37" cy="259.9" rx="2.75" ry="1.3" fill="none" stroke="#000" stroke-width="1.05"/>
<ellipse cx="480.37" cy="266.5" rx="2.75" ry="1.3" fill="none" stroke="#000" stroke-width="1.05"/>
<rect x="487.79999999999995" y="204.67020000000002" width="5" height="43.12979999999999" fill="#000"/>
<path d="M488.55 255.6H493.45M488.55 255.6l0.7 0.7" fill="none" stroke="#000" stroke-width="1.1"/>
<ellipse cx="491.05" cy="261.7" rx="2.75" ry="1.3" fill="none" stroke="#000" stroke-width="1.05"/>
<rect x="498.47999999999996" y="201.0516" width="5" height="46.748400000000004" fill="#000"/>
<path d="M499.23 255.6H504.13M499.23 255.6l0.7 0.7" fill="none" stroke="#000" stroke-width="1.1"/>
<text x="473" y="164.5" font-size="8.3" text-anchor="start" textLength="24.2" lengthAdjust="spacingAndGlyphs" >MM.1R</text>
<line x1="473" y1="165.4" x2="497.2" y2="165.4" stroke="#000" stroke-width="0.9" />
<text transform="translate(284.7,219) rotate(-90)" font-size="7.6" text-anchor="start" textLength="41.2" lengthAdjust="spacingAndGlyphs" >% Apoptosis</text>
<text x="381.2" y="278.9" font-size="7.8" text-anchor="start" textLength="64" lengthAdjust="spacingAndGlyphs" >NVP-LAQ824 (µM)</text>
</svg>
</body></html>
